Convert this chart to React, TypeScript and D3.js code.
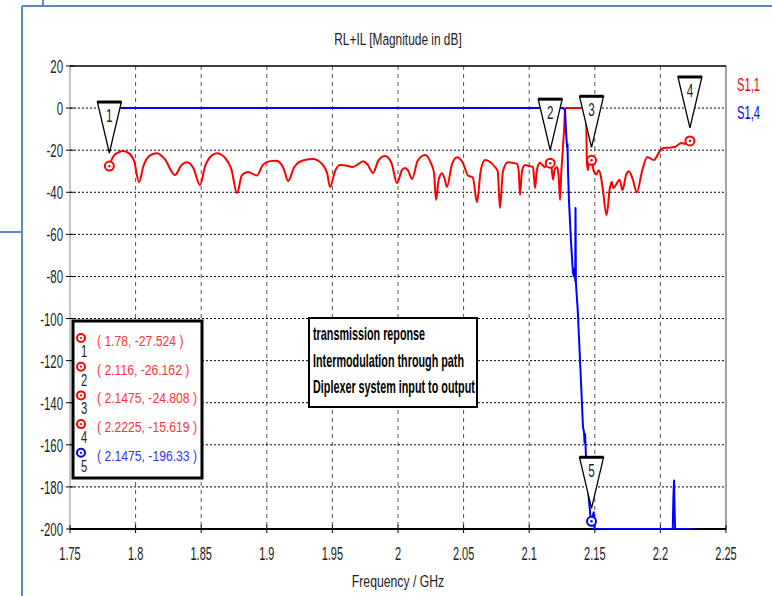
import React from "react";
import * as d3 from "d3";

// S1,1 (return loss): [GHz, dB]
const s11: [number, number][] = [
  [1.7797, -27.5], [1.783, -23.0], [1.787, -21.0], [1.7904, -20.4], [1.795, -21.5], [1.799, -25.5],
  [1.8026, -35.2], [1.806, -27.5], [1.811, -22.5], [1.8163, -21.4], [1.822, -24.0], [1.83, -31.8],
  [1.835, -27.0], [1.8392, -25.7], [1.844, -28.5], [1.8491, -36.6], [1.853, -27.5], [1.858, -22.5],
  [1.862, -21.4], [1.868, -23.5], [1.873, -29.0], [1.8773, -40.4], [1.881, -32.0], [1.8857, -30.4],
  [1.8925, -32.0], [1.897, -27.0], [1.9024, -25.2], [1.907, -25.0], [1.9101, -26.0], [1.913, -29.0],
  [1.9162, -34.7], [1.921, -28.0], [1.928, -24.8], [1.9352, -24.2], [1.942, -26.5], [1.946, -31.0],
  [1.9482, -37.5], [1.952, -30.0], [1.9558, -27.1], [1.962, -27.5], [1.9657, -28.0], [1.97, -26.5],
  [1.9733, -25.2], [1.977, -27.0], [1.9809, -30.9], [1.985, -25.0], [1.9901, -22.8], [1.995, -26.0],
  [1.9992, -35.6], [2.003, -29.5], [2.0053, -28.5], [2.008, -30.0], [2.0107, -33.7], [2.015, -25.0],
  [2.0206, -22.3], [2.025, -26.0], [2.0275, -31.0], [2.029, -43.7], [2.031, -34.0], [2.0335, -31.0],
  [2.0355, -33.5], [2.0373, -37.5], [2.041, -27.0], [2.045, -23.3], [2.049, -25.5], [2.0534, -32.0],
  [2.057, -33.0], [2.0602, -44.7], [2.063, -30.0], [2.0663, -24.7], [2.07, -25.5], [2.0739, -28.0],
  [2.076, -30.0], [2.0777, -47.5], [2.08, -30.0], [2.0838, -25.7], [2.087, -26.0], [2.0907, -26.5],
  [2.092, -30.0], [2.093, -41.3], [2.0945, -30.0], [2.0968, -27.1], [2.1, -27.5], [2.1029, -28.0],
  [2.1037, -33.0], [2.1044, -38.0], [2.106, -29.0], [2.1082, -26.0], [2.11, -27.0], [2.112, -28.0],
  [2.1145, -26.5], [2.1166, -26.2], [2.1181, -34.0], [2.1195, -29.0], [2.1212, -28.0], [2.1225, -33.0],
  [2.1235, -43.7], [2.1245, -30.0], [2.125, -25.7], [2.1258, -17.6], [2.1268, -8.0], [2.1273, 0],
  [2.1433, 0], [2.144, -26.0], [2.1448, -29.5], [2.1458, -24.0], [2.1475, -24.8], [2.149, -29.5],
  [2.151, -31.5], [2.153, -29.5], [2.1545, -32.0], [2.156, -38.0], [2.159, -50.8], [2.1615, -38.0],
  [2.163, -35.0], [2.164, -38.0], [2.165, -37.5], [2.169, -34.0], [2.171, -39.0], [2.174, -31.5],
  [2.176, -30.0], [2.179, -34.0], [2.182, -40.0], [2.186, -30.0], [2.19, -23.2], [2.195, -24.7],
  [2.199, -21.0], [2.202, -19.0], [2.207, -18.8], [2.211, -18.5], [2.216, -16.6], [2.219, -17.0],
  [2.2225, -15.6],
];

// S1,4 (insertion loss)
const s14: [number, number][] = [
  [1.7797, 0], [2.126, 0], [2.1273, -1], [2.128, -10], [2.1288, -18.5], [2.1292, -17], [2.1296, -30],
  [2.1303, -43.7], [2.1318, -62.7], [2.1333, -78], [2.1341, -80], [2.1348, -76], [2.1351, -82],
  [2.1353, -47.5], [2.1356, -83], [2.137, -96], [2.1394, -129], [2.141, -151.5], [2.1418, -154],
  [2.1422, -159], [2.1426, -155], [2.1433, -165.8], [2.1455, -186], [2.147, -196.3], [2.148, -195],
  [2.1492, -192], [2.1498, -200], [2.2094, -200], [2.2099, -185], [2.2104, -177], [2.2108, -190],
  [2.2112, -200], [2.2256, -200],
];

const markerIds = ["1", "2", "3", "4", "5"];
const markerFreq = [1.78, 2.116, 2.1475, 2.2225, 2.1475];
const markerDb = [-27.524, -26.162, -24.808, -15.619, -196.33];
const markerSeries = ["S1,1", "S1,1", "S1,1", "S1,1", "S1,4"];
const markerText = ["( 1.78, -27.524 )", "( 2.116, -26.162 )", "( 2.1475, -24.808 )", "( 2.2225, -15.619 )", "( 2.1475, -196.33 )"];

const xTicks = [1.75, 1.8, 1.85, 1.9, 1.95, 2, 2.05, 2.1, 2.15, 2.2, 2.25];
const yTicks = [20, 0, -20, -40, -60, -80, -100, -120, -140, -160, -180, -200];
const noteLines = ["transmission reponse", "Intermodulation through path", "Diplexer system input to output"];

const W = 772;
const H = 596;
const x = d3.scaleLinear().domain([1.75, 2.25]).range([70, 726]);
const y = d3.scaleLinear().domain([-200, 20]).range([529, 66]);

const RED = "#ff0000";
const BLUE = "#0000ff";
const FONT = "'Liberation Sans', Arial, sans-serif";

function T(props: { x: number; y: number; sx: number; size: number; anchor?: string; fill?: string; weight?: string; children: React.ReactNode }) {
  return (
    <text
      transform={`translate(${props.x},${props.y}) scale(${props.sx},1)`}
      fontSize={props.size}
      fontFamily={FONT}
      textAnchor={props.anchor || "start"}
      fill={props.fill || "#222"}
      fontWeight={props.weight || "normal"}
    >
      {props.children}
    </text>
  );
}

export default function App() {
  const smooth = d3.line<[number, number]>().x(d => x(d[0])).y(d => y(d[1])).curve(d3.curveMonotoneX);
  const line = d3.line<[number, number]>().x(d => x(d[0])).y(d => y(d[1]));
  const seriesColor = (s: string) => (s === "S1,1" ? RED : BLUE);

  return (
    <svg width={W} height={H} style={{ position: "absolute", left: 0, top: 0, background: "#fff" }}>
      <defs>
        <clipPath id="plot">
          <rect x={70} y={66} width={656} height={463} />
        </clipPath>
      </defs>

      {/* outer blue frame */}
      <g stroke="#5b87c6" strokeWidth={2} fill="none">
        <line x1={22} y1={6} x2={W} y2={6} />
        <line x1={22} y1={6} x2={22} y2={H} />
        <line x1={0} y1={232} x2={22} y2={232} />
        <line x1={43} y1={0} x2={43} y2={6} />
      </g>

      <T x={398} y={45} sx={0.7} size={17} anchor="middle">RL+IL [Magnitude in dB]</T>

      {/* grid */}
      <g>
        {xTicks.slice(1, -1).map(t => (
          <line key={"vx" + t} x1={x(t)} x2={x(t)} y1={66} y2={529} stroke="#555" strokeDasharray="4,4" />
        ))}
        {yTicks.slice(1, -1).map(t => (
          <line key={"hy" + t} x1={70} x2={726} y1={y(t)} y2={y(t)} stroke="#000" strokeDasharray="2,2" />
        ))}
      </g>

      {/* frame / axes */}
      <line x1={70} x2={70} y1={66} y2={529} stroke="#888" />
      <line x1={726} x2={726} y1={66} y2={529} stroke="#444" />
      <line x1={70} x2={726} y1={66} y2={66} stroke="#000" strokeWidth={1.5} />
      <line x1={70} x2={726} y1={529} y2={529} stroke="#000" strokeWidth={2} />

      {yTicks.map(t => (
        <g key={"yt" + t}>
          <line x1={66} x2={74} y1={y(t)} y2={y(t)} stroke="#000" />
          <T x={63} y={y(t) + 7} sx={0.6} size={19} anchor="end">{t}</T>
        </g>
      ))}
      {xTicks.map(t => (
        <g key={"xt" + t}>
          <line x1={x(t)} x2={x(t)} y1={525} y2={533} stroke="#000" />
          <T x={x(t)} y={560} sx={0.58} size={19} anchor="middle">{String(t)}</T>
        </g>
      ))}
      <T x={398} y={587} sx={0.72} size={17} anchor="middle">Frequency / GHz</T>

      {/* curves */}
      <g clipPath="url(#plot)" fill="none" strokeLinejoin="round">
        <path d={smooth(s11) || ""} stroke={RED} strokeWidth={2} />
        <path d={line(s14) || ""} stroke={BLUE} strokeWidth={2} />
      </g>

      {/* series labels */}
      <T x={737} y={91} sx={0.62} size={18} fill={RED}>S1,1</T>
      <T x={737} y={119} sx={0.62} size={18} fill={BLUE}>S1,4</T>

      {/* marker readout box */}
      <rect x={73} y={321} width={129} height={157} fill="#fff" stroke="#000" strokeWidth={3} />
      {markerIds.map((id, i) => {
        const cy = 338 + i * 28.7;
        const c = seriesColor(markerSeries[i]);
        const tc = markerSeries[i] === "S1,1" ? "#ff3333" : "#3333ff";
        return (
          <g key={"lg" + id}>
            <circle cx={81} cy={cy} r={4} fill="#fff" stroke={c} strokeWidth={2} />
            <circle cx={81} cy={cy} r={1.1} fill={c} />
            <T x={84} y={cy + 19} sx={0.7} size={16} anchor="middle">{id}</T>
            <T x={97} y={cy + 8} sx={0.79} size={15.4} fill={tc}>{markerText[i]}</T>
          </g>
        );
      })}

      {/* note box */}
      <rect x={309} y={318} width={168} height={89} fill="#fff" stroke="#000" strokeWidth={2} />
      {noteLines.map((s, i) => (
        <T key={s} x={313} y={340 + i * 26.5} sx={0.6} size={18} weight="bold" fill="#000">{s}</T>
      ))}

      {/* markers on the curves */}
      {markerIds.map((id, i) => {
        const cx = x(markerFreq[i]);
        const cy = y(markerDb[i]);
        const c = seriesColor(markerSeries[i]);
        const top = cy - 64;
        const tip = cy - 13;
        return (
          <g key={"mk" + id}>
            <path d={`M${cx - 12},${top} L${cx + 12},${top} L${cx},${tip} Z`} fill="#fff" stroke="#000" strokeWidth={1.3} />
            <line x1={cx - 12} x2={cx + 12} y1={top} y2={top} stroke="#000" strokeWidth={3} />
            <T x={cx} y={top + 20} sx={0.65} size={18} anchor="middle">{id}</T>
            <circle cx={cx} cy={cy} r={4.5} fill="#fff" stroke={c} strokeWidth={2} />
            <circle cx={cx} cy={cy} r={1.2} fill={c} />
          </g>
        );
      })}
    </svg>
  );
}
